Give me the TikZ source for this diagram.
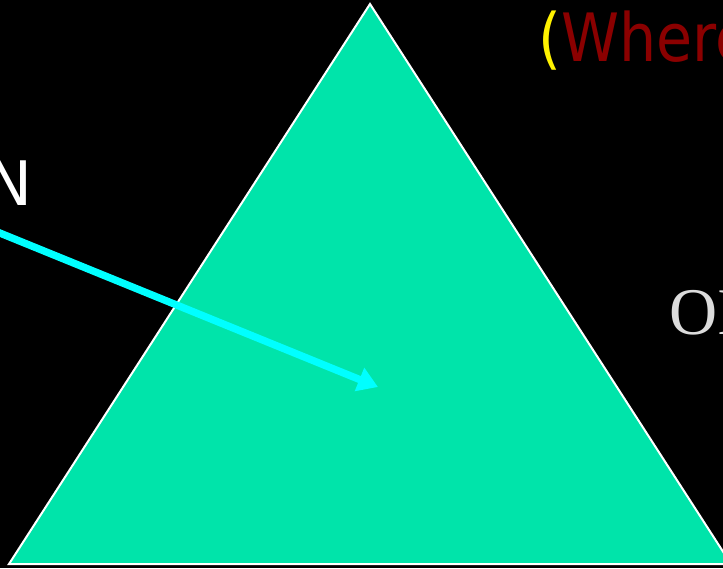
\documentclass[tikz,border=0pt]{standalone}
\usepackage{fontspec}
\setmainfont{Liberation Serif}
\newfontfamily\labelsans{DejaVu Sans}
\usetikzlibrary{arrows.meta}
\definecolor{prismgreen}{HTML}{00E4AA}
\definecolor{wherered}{HTML}{8B0000}
\definecolor{raycyan}{HTML}{00FFFF}
\definecolor{outgray}{HTML}{DCDCDC}

\begin{document}
\begin{tikzpicture}[x=0.75pt,y=-0.75pt]
  % Define the picture size
  \def\picw{723}
  \def\pich{568}

  % Draw the black background
  \fill[black] (0,0) rectangle (\picw,\pich);
  \useasboundingbox (0,0) rectangle (\picw,\pich);
  \clip (0,0) rectangle (\picw,\pich);

  % Draw the prism
  \coordinate (apex) at (370,4);
  \coordinate (baseleft) at (9,564);
  \coordinate (baseright) at (731,564);
  \filldraw[fill=prismgreen, draw=white, line width=1.5pt] (apex) -- (baseleft) -- (baseright) -- cycle;

  % Draw the labels
  \node[anchor=base west, inner sep=0pt, font=\labelsans\fontsize{50}{50}\selectfont] (where) at (538,61)
    {\scalebox{0.88}[1]{\textcolor{yellow}{(}\textcolor{wherered}{Where}}};
  \node[anchor=base east, inner sep=0pt, text=white, font=\labelsans\fontsize{46}{46}\selectfont] (inlabel) at (33,205) {N};
  \node[anchor=base west, inner sep=0pt, text=outgray, font=\fontsize{50}{50}\selectfont] (outlabel) at (669,334) {OI};

  % Draw the incoming ray
  \coordinate (raystart) at (-10,229);
  \coordinate (rayend) at (378,387);
  \draw[raycyan, line width=5.5pt, -{Triangle[length=15pt, width=18pt]}] (raystart) -- (rayend);

\end{tikzpicture}
\end{document}
